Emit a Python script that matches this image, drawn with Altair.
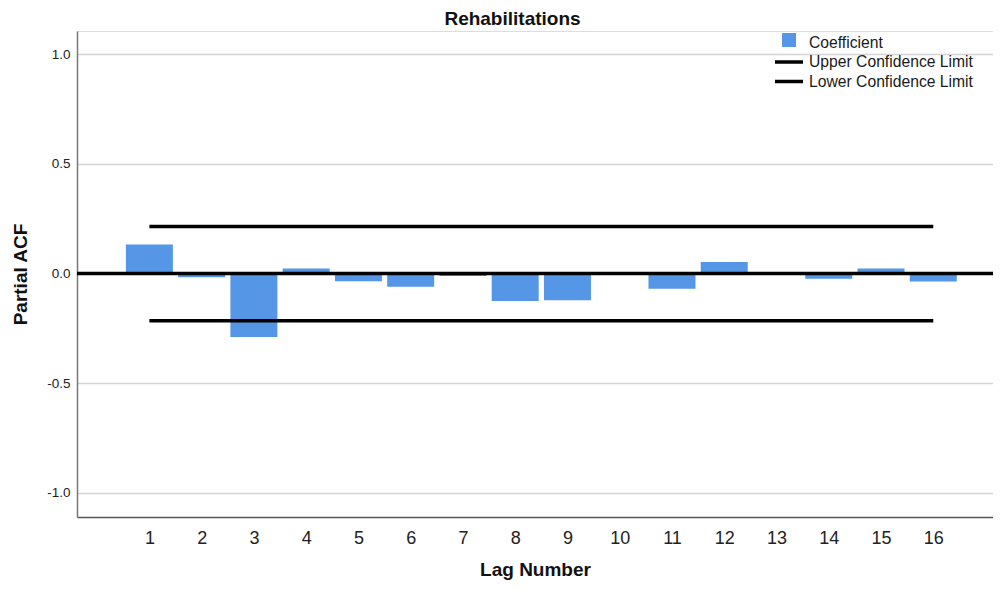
import altair as alt
import pandas as pd

lags = list(range(1, 17))
pacf = [0.132, -0.017, -0.29, 0.023, -0.035, -0.061, -0.012, -0.125,
        -0.122, 0.003, -0.07, 0.052, -0.004, -0.024, 0.023, -0.037]
upper_limit = 0.214
lower_limit = -0.216
series_names = ["Coefficient", "Upper Confidence Limit", "Lower Confidence Limit"]
series_colors = ["#5596e6", "#000000", "#000000"]
series_shapes = [
    "M-0.7,-0.95H0.7V0.45H-0.7Z",
    "M-1.4,-0.175H1.4V0.175H-1.4Z",
    "M-1.4,-0.175H1.4V0.175H-1.4Z",
]
y_ticks = [-1.0, -0.5, 0.0, 0.5, 1.0]

FONT = "Liberation Sans"
BAR_COLOR = series_colors[0]

bars_df = pd.DataFrame({"lag": lags, "pacf": pacf})
cl_df = pd.DataFrame({
    "lag": [lags[0], lags[-1], lags[0], lags[-1]],
    "value": [upper_limit, upper_limit, lower_limit, lower_limit],
    "series": [series_names[1], series_names[1], series_names[2], series_names[2]],
})
zero_df = pd.DataFrame({"zero": [0.0]})
legend_df = pd.DataFrame({"series": series_names})

xscale = alt.Scale(domain=[-0.385, 17.143], nice=False, zero=False, padding=0)
yscale = alt.Scale(domain=[-1.11, 1.105], nice=False, zero=False)

x_axis = alt.Axis(
    title="Lag Number", values=lags, format="d", grid=False, ticks=False,
    domain=True, domainColor="#555555", domainWidth=1.5,
    labelFont=FONT, labelFontSize=18, labelColor="#222222", labelPadding=12,
    titleFont=FONT, titleFontSize=19, titleFontWeight="bold", titleColor="#111111",
    titlePadding=13, labelFlush=False,
)
y_axis = alt.Axis(
    title="Partial ACF", values=y_ticks, grid=True,
    labelExpr="datum.value < 0 ? '-' + format(-datum.value, '.1f') : format(datum.value, '.1f')",
    gridColor="#d4d4d4", gridWidth=1.5, ticks=False,
    domain=True, domainColor="#777777", domainWidth=1.5,
    labelFont=FONT, labelFontSize=13.5, labelColor="#222222", labelPadding=7,
    titleFont=FONT, titleFontSize=19, titleFontWeight="bold", titleColor="#111111",
    titlePadding=16,
)

bars = alt.Chart(bars_df).mark_bar(size=47, color=BAR_COLOR).encode(
    x=alt.X("lag:Q", scale=xscale, axis=x_axis),
    y=alt.Y("pacf:Q", scale=yscale, axis=y_axis),
    y2=alt.datum(0),
)

zero_line = alt.Chart(zero_df).mark_rule(color="#000000", strokeWidth=3.5).encode(
    y=alt.Y("zero:Q", scale=yscale),
)

cl_lines = alt.Chart(cl_df).mark_line(strokeWidth=3.5, strokeCap="butt", color="#000000").encode(
    x=alt.X("lag:Q", scale=xscale),
    y=alt.Y("value:Q", scale=yscale),
    detail="series:N",
)

legend = alt.Legend(
    title=None, orient="none", legendX=702, legendY=1.5, padding=0,
    labelFont=FONT, labelFontSize=15.7, labelColor="#1a1a1a", labelLimit=400,
    labelOffset=10, rowPadding=1.5, symbolSize=400, symbolStrokeWidth=0,
    symbolOpacity=1,
)

legend_layer = alt.Chart(legend_df).mark_point(
    filled=True, size=400, clip=True, strokeWidth=0
).encode(
    x=alt.datum(1, scale=xscale),
    y=alt.datum(5, scale=yscale),
    color=alt.Color("series:N", scale=alt.Scale(domain=series_names, range=series_colors), legend=legend),
    shape=alt.Shape("series:N", scale=alt.Scale(domain=series_names, range=series_shapes), legend=legend),
)

chart = alt.layer(bars, cl_lines, zero_line, legend_layer).properties(
    width=916, height=486,
    autosize=alt.AutoSizeParams(type="none"),
    padding={"left": 69, "top": 23, "right": 0, "bottom": 65},
    title=alt.TitleParams(
        "Rehabilitations", font=FONT, fontSize=19, fontWeight="bold",
        color="#111111", anchor="middle", dx=-22.5, offset=2.5,
    ),
).configure_view(stroke=None).configure(background="white")

chart.save("out.html", embed_options={"renderer": "svg", "actions": False})
